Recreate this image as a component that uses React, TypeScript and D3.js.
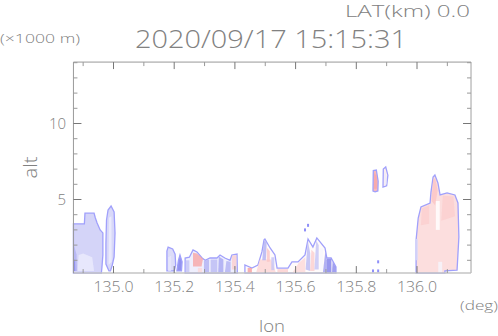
import React from "react";
import * as d3 from "d3";

const xMajor = [135.0, 135.2, 135.4, 135.6, 135.8, 136.0];
const xMinor = [134.9, 135.1, 135.3, 135.5, 135.7, 135.9, 136.1];
const yMajor = [5, 10];
const yMinor = [1, 2, 3, 4, 6, 7, 8, 9, 11, 12, 13, 14];

type P = [number, number];
// outlined echo regions [lon, alt km]
const leftBlock: P[] = [[134.868,.16],[134.868,3.4],[134.904,3.4],[134.906,4.1],[134.936,4.1],[134.94,3.8],[134.946,3.45],[134.956,3.0],[134.965,2.8],[134.965,1.35],[134.962,.56],[134.96,.16]];
const leftColumn: P[] = [[134.975,.75],[134.975,2.14],[134.977,3.65],[134.982,4.31],[134.992,4.57],[135.002,4.18],[135.005,2.8],[135.002,1.22],[134.996,.69],[134.99,.3],[134.985,.3]];
const blobA: P[] = [[135.176,.3],[135.176,1.6],[135.18,1.87],[135.195,1.75],[135.203,1.4],[135.205,.7],[135.2,.3]];
const blobB: P[] = [[135.209,.3],[135.214,1.0],[135.219,1.35],[135.226,.9],[135.224,.3]];
const band: P[] = [[135.236,.16],[135.236,1.15],[135.25,1.2],[135.262,1.68],[135.275,1.55],[135.292,1.15],[135.302,1.0],[135.318,1.15],[135.341,1.15],[135.351,1.35],[135.367,1.15],[135.384,1.0],[135.39,1.35],[135.407,1.41],[135.408,.16]];
const ridge: P[] = [[135.433,.16],[135.433,.69],[135.456,.49],[135.476,.69],[135.489,1.55],[135.496,2.34],[135.499,2.4],[135.516,1.81],[135.532,1.35],[135.539,.49],[135.575,.49],[135.588,.89],[135.608,.89],[135.631,1.35],[135.641,2.4],[135.657,1.87],[135.67,2.47],[135.697,1.81],[135.703,1.15],[135.717,1.15],[135.733,.56],[135.733,.16]];
const peakOne: P[] = [[135.855,5.56],[135.856,6.9],[135.866,6.94],[135.872,6.2],[135.871,5.56],[135.862,5.5]];
const peakTwo: P[] = [[135.888,5.82],[135.889,7.0],[135.897,7.14],[135.904,6.6],[135.9,5.9]];
const rightBlock: P[] = [[135.997,.16],[135.997,2.34],[136.004,3.78],[136.013,4.51],[136.043,4.77],[136.046,5.49],[136.053,6.48],[136.059,6.61],[136.069,6.09],[136.076,5.3],[136.099,5.43],[136.125,5.3],[136.135,4.77],[136.138,2.53],[136.132,.36],[136.092,.3],[136.092,.16]];
const outlined: P[][] = [leftBlock, leftColumn, blobA, blobB, band, ridge, peakOne, peakTwo, rightBlock];
const outlineTones = [-0.22, -0.2, -0.18, -0.55, -0.08, 0.02, 0.35, 0.08, 0.17];

// interior shading patches
const patches: P[][] = [
  [[134.868,.3],[134.868,2.1],[134.878,1.4],[134.88,.3]],
  [[134.868,.3],[134.868,1.2],[134.873,.9],[134.874,.3]],
  [[134.882,.3],[134.885,1.35],[134.9,1.45],[134.93,1.2],[134.936,.3]],
  [[134.984,.7],[134.985,3.8],[134.993,3.9],[134.994,.9]],
  [[135.18,.3],[135.18,1.2],[135.19,1.3],[135.19,.3]],
  [[135.238,.2],[135.238,1.0],[135.25,1.0],[135.25,.2]],
  [[135.262,.6],[135.262,1.5],[135.275,1.45],[135.295,1.1],[135.29,.6]],
  [[135.278,.2],[135.278,.5],[135.292,.5],[135.292,.2]],
  [[135.298,.2],[135.298,.95],[135.315,1.05],[135.315,.2]],
  [[135.32,.2],[135.32,1.05],[135.342,1.05],[135.342,.2]],
  [[135.345,.2],[135.347,1.25],[135.362,1.05],[135.362,.2]],
  [[135.367,.2],[135.372,.95],[135.386,.9],[135.386,.2]],
  [[135.39,.4],[135.39,1.3],[135.405,1.35],[135.405,.4]],
  [[135.442,.16],[135.442,.5],[135.456,.5],[135.456,.16]],
  [[135.47,.2],[135.482,1.05],[135.52,1.05],[135.535,.2]],
  [[135.49,1.0],[135.495,2.25],[135.505,2.25],[135.502,1.0]],
  [[135.505,.9],[135.505,1.85],[135.515,1.6],[135.515,.9]],
  [[135.52,.35],[135.52,1.2],[135.53,1.2],[135.53,.35]],
  [[135.54,.16],[135.54,.42],[135.575,.42],[135.575,.16]],
  [[135.59,.2],[135.61,.82],[135.632,1.2],[135.632,.2]],
  [[135.633,.4],[135.64,2.3],[135.648,1.5],[135.648,.3]],
  [[135.648,.3],[135.652,1.7],[135.662,1.5],[135.662,.3]],
  [[135.662,.4],[135.668,2.3],[135.676,2.0],[135.676,.4]],
  [[135.68,.3],[135.68,1.8],[135.69,1.8],[135.69,.3]],
  [[135.69,.2],[135.698,1.6],[135.703,1.0],[135.703,.2]],
  [[135.703,.16],[135.703,1.1],[135.718,1.1],[135.718,.16]],
  [[135.72,.2],[135.722,.9],[135.732,.55],[135.732,.2]],
  [[135.858,5.7],[135.859,6.8],[135.868,6.5],[135.868,5.7]],
  [[135.893,5.9],[135.893,6.9],[135.9,6.5],[135.9,6.0]],
  [[136.013,3.3],[136.016,4.4],[136.04,4.6],[136.04,3.4]],
  [[136.048,4.9],[136.053,6.3],[136.06,6.4],[136.068,5.6],[136.06,4.6]],
  [[136.08,3.6],[136.085,5.25],[136.12,5.2],[136.125,3.9]],
  [[136.062,3.0],[136.062,4.9],[136.075,4.9],[136.075,3.0]],
  [[135.994,1.0],[135.994,2.4],[136.003,2.4],[136.003,1.0]],
  [[136.07,.2],[136.07,.9],[136.083,.9],[136.083,.2]],
];
const patchTones = [-0.4,-0.6,-0.1,-0.08,-0.12,-0.3,0.45,0.2,-0.4,-0.35,-0.45,-0.4,0.25,0.5,0.22,-0.4,0.3,-0.3,0.25,0.2,-0.35,0.25,-0.3,-0.04,-0.5,-0.65,-0.6,0.45,-0.1,0.25,0.3,0.25,0.0,-0.2,-0.05];

// isolated specks [lon, alt km]
const speckLon = [135.855, 135.872, 135.872, 135.631, 135.641];
const speckAlt = [0.3, 0.3, 0.9, 3.0, 3.3];

const W = 498, H = 336;
const x = d3.scaleLinear().domain([135.0, 136.0]).range([113.5, 417]);
const y = d3.scaleLinear().domain([5, 10]).range([199.5, 123.5]);
const left = x(134.868), right = x(136.178), bottom = y(0.16), top = y(14.04);
const tone = d3.scaleLinear<string>().domain([-1, 0, 1]).range(["#3a3ae0", "#ffffff", "#f03a3a"]);
const poly = d3.line<P>().x(d => x(d[0])).y(d => y(d[1])).curve(d3.curveLinearClosed);

const textC = "#808080";
const font = "'Open Sans', 'DejaVu Sans', sans-serif";

export default function App() {
  return (
    <svg width={W} height={H} style={{ position: "fixed", left: 0, top: 0, background: "#fff" }} fontFamily={font} fontWeight={300}>
      <g>
        {outlined.map((p, i) => (
          <path key={i} d={poly(p)!} fill={tone(outlineTones[i])} stroke="#a0a0fb" strokeWidth={1.3} />
        ))}
        {patches.map((p, i) => (
          <path key={i} d={poly(p)!} fill={tone(patchTones[i])} opacity={0.8} />
        ))}
        {speckLon.map((l, i) => (
          <rect key={i} x={x(l) - 1} y={y(speckAlt[i]) - 1.5} width={2} height={3} fill="#8f8ff8" />
        ))}
      </g>
      {/* frame */}
      <line x1={left} x2={right} y1={top} y2={top} stroke="#c4c4c4" strokeWidth={1.6} />
      <line x1={left} x2={right} y1={bottom} y2={bottom} stroke="#c4c4c4" strokeWidth={1.6} />
      <line x1={left} x2={left} y1={top} y2={bottom} stroke="#999" strokeWidth={1} />
      <line x1={right} x2={right} y1={top} y2={bottom} stroke="#bbb" strokeWidth={1.4} />
      {xMajor.map(v => (
        <g key={v} stroke="#777" strokeWidth={1}>
          <line x1={x(v)} x2={x(v)} y1={top} y2={top + 7} />
          <line x1={x(v)} x2={x(v)} y1={bottom} y2={bottom - 7} />
        </g>
      ))}
      {xMinor.map(v => (
        <g key={v} stroke="#999" strokeWidth={1}>
          <line x1={x(v)} x2={x(v)} y1={top} y2={top + 4} />
          <line x1={x(v)} x2={x(v)} y1={bottom} y2={bottom - 4} />
        </g>
      ))}
      {yMajor.map(v => (
        <g key={v} stroke="#777" strokeWidth={1}>
          <line x1={left} x2={left + 8} y1={y(v)} y2={y(v)} />
          <line x1={right} x2={right - 8} y1={y(v)} y2={y(v)} />
        </g>
      ))}
      {yMinor.map(v => (
        <g key={v} stroke="#999" strokeWidth={1}>
          <line x1={left} x2={left + 4} y1={y(v)} y2={y(v)} />
          <line x1={right} x2={right - 4} y1={y(v)} y2={y(v)} />
        </g>
      ))}
      <g fill={textC} opacity={0.99}>
        {xMajor.map(v => (
          <text key={v} x={x(v)} y={292} fontSize={14.5} textAnchor="middle" textLength={40} lengthAdjust="spacingAndGlyphs">{v.toFixed(1)}</text>
        ))}
        {yMajor.map(v => (
          <text key={v} x={66} y={y(v) + 5.5} fontSize={15} textAnchor="end">{v}</text>
        ))}
        <text x={345} y={17} fontSize={16} textLength={125} lengthAdjust="spacingAndGlyphs">LAT(km) 0.0</text>
        <text x={135} y={47.5} fontSize={25.5} textLength={272} lengthAdjust="spacingAndGlyphs">2020/09/17 15:15:31</text>
        <text x={0} y={43} fontSize={12.5} textLength={80} lengthAdjust="spacingAndGlyphs">(×1000 m)</text>
        <text x={460} y={310} fontSize={12.5} textLength={38} lengthAdjust="spacingAndGlyphs">(deg)</text>
        <text x={259} y={331.5} fontSize={17} textLength={26} lengthAdjust="spacingAndGlyphs">lon</text>
        <text transform="translate(37,167.5) rotate(-90)" fontSize={19} textAnchor="middle" textLength={22} lengthAdjust="spacingAndGlyphs">alt</text>
      </g>
    </svg>
  );
}
